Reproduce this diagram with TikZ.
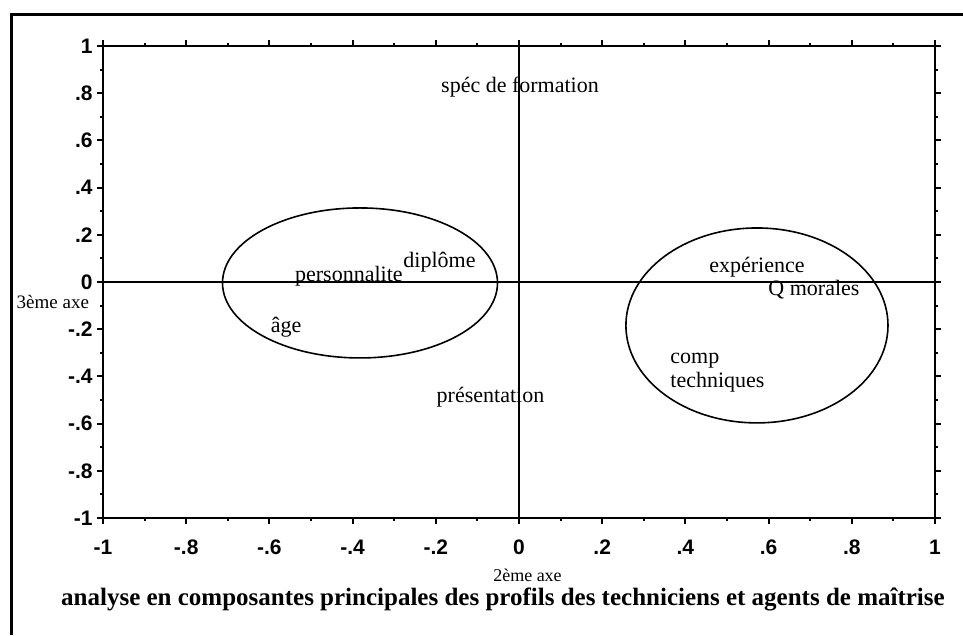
\documentclass[tikz,border=0pt]{standalone}
\usepackage{fontspec}
\setmainfont{Liberation Serif}
\setsansfont{Liberation Sans}
\begin{document}
\begin{tikzpicture}[x=208pt, y=118pt,
    lbl/.style={inner sep=0pt, font=\fontsize{11}{12}\selectfont},
    ylab/.style={anchor=east, inner sep=0pt, xshift=-5pt, font=\sffamily\bfseries\fontsize{10.5}{12}\selectfont},
    xlab/.style={inner sep=0pt, font=\sffamily\bfseries\fontsize{10.5}{12}\selectfont},
    boxline/.style={line width=1.4pt},
    zeroline/.style={line width=1pt},
    tickline/.style={line width=1pt},
    grp/.style={line width=0.8pt}]
    \useasboundingbox (-1.2476,-1.4958) rectangle (1.0673,1.1949);

    % outer frame
    \draw[line width=1.5pt] (-1.2188,-1.4958) -- (-1.2188,1.1314) -- (1.0673,1.1314);

    % plot box and axes through the origin
    \draw[boxline] (-1,-1) rectangle (1,1);
    \draw[zeroline] (-1,0) -- (1,0);
    \draw[zeroline] (0,-1) -- (0,1);

    % ticks
    \foreach \i in {-10,...,10} {
        \pgfmathsetmacro{\t}{\i/10}
        \ifodd\i \def\len{1.5pt}\else\def\len{3pt}\fi
        \draw[tickline] (\t,-1) -- ++(0pt,-\len);
        \draw[tickline] (\t,1) -- ++(0pt,\len);
        \draw[tickline] (-1,\t) -- ++(-\len,0pt);
        \draw[tickline] (1,\t) -- ++(\len,0pt);
    }

    % tick labels
    \foreach \v/\s [count=\k] in {1/1, 0.8/.8, 0.6/.6, 0.4/.4, 0.2/.2, 0/0, -0.2/-.2, -0.4/-.4, -0.6/-.6, -0.8/-.8, -1/-1}
        \node[ylab] (ylab\k) at (-1,\v) {\s};
    \foreach \v/\s [count=\k] in {-1/-1, -0.8/-.8, -0.6/-.6, -0.4/-.4, -0.2/-.2, 0/0, 0.2/.2, 0.4/.4, 0.6/.6, 0.8/.8, 1/1}
        \node[xlab] (xlab\k) at (\v,-1.123) {\s};

    % groups
    \draw[grp] (-0.3822,-0.004) ellipse [x radius=0.3305, y radius=0.3178];
    \draw[grp] (0.572,-0.184) ellipse [x radius=0.315, y radius=0.413];

    % variables
    \node[lbl] (spec) at (0.0024,0.826) {spéc de formation};
    \node[lbl] (perso) at (-0.409,0.025) {personnalite};
    \node[lbl] (diplome) at (-0.191,0.085) {diplôme};
    \node[lbl] (age) at (-0.560,-0.191) {âge};
    \node[lbl] (experience) at (0.572,0.064) {expérience};
    \node[lbl] (qmorales) at (0.709,-0.034) {Q morales};
    \node[lbl, anchor=west, align=left] (comp) at (0.363,-0.386) {comp\\techniques};
    \node[lbl] (presentation) at (-0.0685,-0.487) {présentation};

    % axis names and title
    \node[inner sep=0pt, font=\fontsize{9.5}{10}\selectfont] (axe3) at (-1.1205,-0.085) {3ème axe};
    \node[inner sep=0pt, font=\fontsize{9}{10}\selectfont] (axe2) at (0.0204,-1.2415) {2ème axe};
    \node[inner sep=0pt, font=\bfseries\fontsize{12.5}{14}\selectfont] (titre) at (-0.0385,-1.347) {analyse en composantes principales des profils des techniciens et agents de maîtrise};
\end{tikzpicture}
\end{document}
